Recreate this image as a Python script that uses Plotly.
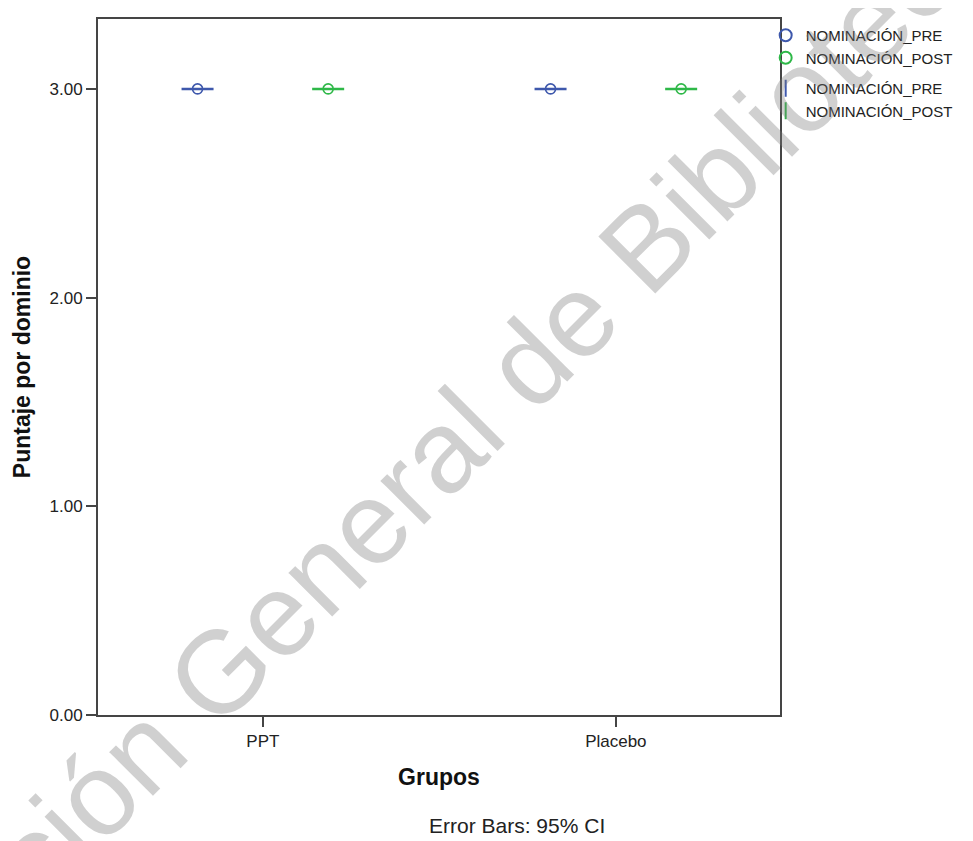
import plotly.graph_objects as go

# data
groups = ['PPT', 'Placebo']
pre_means = [3.0, 3.0]
post_means = [3.0, 3.0]
pre_ci = [0.0, 0.0]
post_ci = [0.0, 0.0]
series_names = ['NOMINACIÓN_PRE', 'NOMINACIÓN_POST']
y_ticks = [0, 1, 2, 3]

blue = '#3E58AC'
green = '#2EB848'
axis_col = '#454545'
font_main = 'Liberation Sans, Arial, sans-serif'

fig = go.Figure()

for name, means, ci, col, grp in [(series_names[0], pre_means, pre_ci, blue, 'pre'),
                                  (series_names[1], post_means, post_ci, green, 'post')]:
    fig.add_trace(go.Scatter(
        x=groups, y=means, name=name, mode='markers',
        marker=dict(symbol='circle-open', size=10, color=col, line=dict(width=1.6, color=col)),
        error_y=dict(type='data', array=ci, visible=True, color=col, thickness=2.5, width=16),
        legendgroup='means', offsetgroup=grp, cliponaxis=False
    ))

# legend entries for the error bars
for name, col, grp in [(series_names[0], blue, 'pre'), (series_names[1], green, 'post')]:
    fig.add_trace(go.Scatter(
        x=[None], y=[None], name=name, mode='markers',
        marker=dict(symbol='line-ns-open', size=11, color=col, line=dict(width=1.6, color=col)),
        legendgroup='bars', offsetgroup=grp
    ))

fig.update_layout(
    width=965, height=833,
    margin=dict(l=90, r=193, t=9, b=126),
    paper_bgcolor='white', plot_bgcolor='white',
    font=dict(family=font_main, size=17, color='#222'),
    scattermode='group', scattergap=0.26,
    showlegend=True,
    legend=dict(x=0.979, y=1.0, xanchor='left', yanchor='top',
                font=dict(size=15, color='#222'), tracegroupgap=8,
                itemwidth=30, itemsizing='constant', bgcolor='rgba(0,0,0,0)'),
    xaxis=dict(
        type='category', range=[-0.467, 1.465],
        showline=True, linecolor=axis_col, linewidth=2, mirror=True,
        ticks='outside', ticklen=10, tickcolor=axis_col, tickwidth=1.5,
        showgrid=False, zeroline=False,
        tickfont=dict(size=17, color='#222'),
        title=dict(text='<b>Grupos</b>', font=dict(size=23, color='#111'), standoff=18),
    ),
    yaxis=dict(
        range=[0, 3.335], tickvals=y_ticks, tickformat='.2f',
        showline=True, linecolor=axis_col, linewidth=2, mirror=True,
        ticks='outside', ticklen=10, tickcolor=axis_col, tickwidth=1.5,
        showgrid=False, zeroline=False,
        tickfont=dict(size=17, color='#222'),
        title=dict(text='<b>Puntaje por dominio</b>', font=dict(size=23, color='#111'), standoff=12),
    ),
    annotations=[
        dict(text='Error Bars: 95% CI', xref='paper', yref='paper', x=0.614, y=-0.159,
             showarrow=False, font=dict(size=21, color='#222'), xanchor='center', yanchor='middle'),
        dict(text='Dirección General de Bibliotecas', xref='paper', yref='paper',
             x=0.472, y=0.35, showarrow=False, textangle=-45,
             font=dict(size=117, color='rgba(120,120,120,0.35)', family=font_main),
             xanchor='center', yanchor='middle'),
    ],
)

fig.write_html('out.html')
